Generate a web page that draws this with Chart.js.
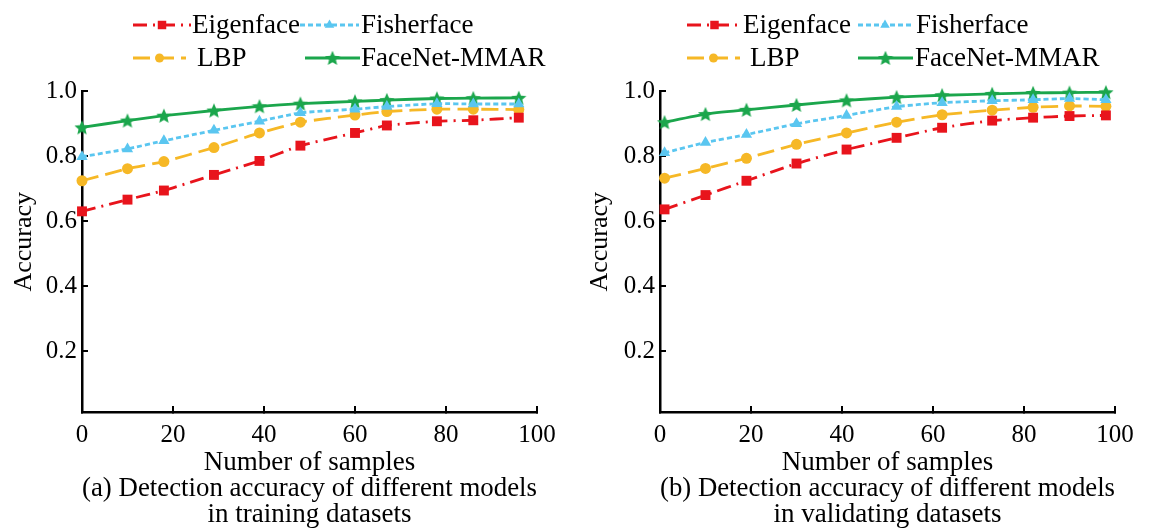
<!DOCTYPE html>
<html>
<head>
<meta charset="utf-8">
<script src="https://cdn.jsdelivr.net/npm/chart.js@4.4.1/dist/chart.umd.min.js"></script>
<style>
  html, body { margin: 0; padding: 0; background: #fff; }
  .wrap { display: flex; width: 1152px; height: 531px; }
  .panel { width: 576px; height: 531px; }
</style>
</head>
<body>
<div class="wrap">
  <div class="panel"><canvas id="chartA" width="576" height="531"></canvas></div>
  <div class="panel"><canvas id="chartB" width="576" height="531"></canvas></div>
</div>
<script>
// Series names and axis ticks
const seriesNames = ['Eigenface', 'Fisherface', 'LBP', 'FaceNet-MMAR'];
const xTicks = [0, 20, 40, 60, 80, 100];
const yTicks = [0.2, 0.4, 0.6, 0.8, 1.0];

// (a) training datasets
const trainSamples = [0, 10, 18, 29, 39, 48, 60, 67, 78, 86, 96];
const trainEigen   = [0.630, 0.666, 0.694, 0.742, 0.785, 0.832, 0.871, 0.894, 0.907, 0.910, 0.918];
const trainFisher  = [0.798, 0.822, 0.847, 0.879, 0.907, 0.933, 0.944, 0.952, 0.961, 0.960, 0.960];
const trainLBP     = [0.724, 0.761, 0.783, 0.826, 0.871, 0.904, 0.926, 0.937, 0.944, 0.944, 0.943];
const trainFaceNet = [0.888, 0.909, 0.924, 0.940, 0.953, 0.961, 0.968, 0.972, 0.977, 0.978, 0.979];

// (b) validating datasets
const validSamples = [1, 10, 19, 30, 41, 52, 62, 73, 82, 90, 98];
const validEigen   = [0.636, 0.680, 0.724, 0.777, 0.820, 0.856, 0.887, 0.909, 0.918, 0.923, 0.925];
const validFisher  = [0.810, 0.842, 0.866, 0.899, 0.925, 0.952, 0.964, 0.970, 0.973, 0.977, 0.973];
const validLBP     = [0.732, 0.762, 0.793, 0.836, 0.871, 0.904, 0.927, 0.941, 0.950, 0.954, 0.953];
const validFaceNet = [0.904, 0.929, 0.942, 0.957, 0.971, 0.981, 0.987, 0.991, 0.994, 0.995, 0.996];

const FONT = '"Liberation Serif", "Times New Roman", serif';

// filled five-point star used as marker
function makeStar(color, size) {
  const c = document.createElement('canvas');
  c.width = c.height = size;
  const g = c.getContext('2d');
  const R = size / 2, r = R * 0.45;
  g.fillStyle = color;
  g.beginPath();
  for (let i = 0; i < 10; i++) {
    const a = -Math.PI / 2 + i * Math.PI / 5;
    const rad = i % 2 ? r : R;
    g.lineTo(R + rad * Math.cos(a), R + R * 0.08 + rad * Math.sin(a));
  }
  g.closePath();
  g.fill();
  return c;
}

const styles = [
  { color: '#e8141c', dash: [14, 6, 2, 6], point: 'rect', radius: 7 },
  { color: '#5ac6f0', dash: [5, 3], point: 'triangle', radius: 6.5 },
  { color: '#f6b826', dash: [17, 7], point: 'circle', radius: 5.5 },
  { color: '#1ba64c', dash: [], point: makeStar('#1ba64c', 16), radius: 7 }
];

function toPoints(xs, ys) {
  return xs.map((x, i) => ({ x: x, y: ys[i] }));
}

function buildDatasets(xs, seriesList) {
  return seriesList.map((ys, i) => ({
    label: seriesNames[i],
    data: toPoints(xs, ys),
    borderColor: styles[i].color,
    backgroundColor: styles[i].color,
    borderWidth: 2.8,
    borderDash: styles[i].dash,
    pointStyle: styles[i].point,
    pointRadius: styles[i].radius,
    pointBorderWidth: 0,
    tension: 0.15,
    clip: 20
  }));
}

// legend drawn as line + marker + text, like the original figure
const lineLegend = {
  id: 'lineLegend',
  afterDraw(chart, args, opts) {
    const ctx = chart.ctx;
    opts.items.forEach((it, i) => {
      const ds = chart.data.datasets[i];
      ctx.save();
      ctx.strokeStyle = ds.borderColor;
      ctx.lineWidth = 2.8;
      ctx.setLineDash(ds.borderDash || []);
      ctx.beginPath();
      ctx.moveTo(it.x0, it.y);
      ctx.lineTo(it.x1, it.y);
      ctx.stroke();
      ctx.setLineDash([]);
      ctx.fillStyle = ds.backgroundColor;
      Chart.helpers.drawPoint(ctx, {
        pointStyle: ds.pointStyle,
        radius: ds.pointRadius - 1,
        borderWidth: 0,
        rotation: 0
      }, (it.x0 + it.x1) / 2, it.y);
      ctx.fillStyle = '#000';
      ctx.font = '27px ' + FONT;
      ctx.textBaseline = 'middle';
      ctx.textAlign = 'left';
      ctx.fillText(ds.label, it.tx, it.y + 1);
      ctx.restore();
    });
  }
};

function makeChart(id, xs, seriesList, caption, axisLeft, legendItems) {
  const plotRight = axisLeft + 455;
  return new Chart(document.getElementById(id), {
    type: 'line',
    data: { datasets: buildDatasets(xs, seriesList) },
    plugins: [lineLegend],
    options: {
      responsive: false,
      animation: false,
      devicePixelRatio: 1,
      layout: { padding: { top: 91, left: 0, right: 576 - plotRight, bottom: 0 } },
      plugins: {
        legend: { display: false },
        tooltip: { enabled: false },
        lineLegend: { items: legendItems }
      },
      scales: {
        x: {
          type: 'linear',
          min: 0,
          max: 100,
          afterBuildTicks: (s) => { s.ticks = xTicks.map(v => ({ value: v })); },
          afterFit: (s) => { s.height = 119; },
          border: { display: true, color: '#000', width: 2.5 },
          grid: { drawOnChartArea: false, drawTicks: true, tickLength: -6, color: '#000', lineWidth: 2 },
          ticks: { color: '#000', font: { family: FONT, size: 25 }, padding: 14, maxRotation: 0 },
          title: {
            display: true,
            text: ['Number of samples'].concat(caption),
            color: '#000',
            font: { family: FONT, size: 27, lineHeight: '26px' },
            padding: { top: 0, bottom: 3 }
          }
        },
        y: {
          min: 0.013,
          max: 1.0,
          afterBuildTicks: (s) => { s.ticks = yTicks.map(v => ({ value: v })); },
          afterFit: (s) => { s.width = axisLeft; },
          border: { display: true, color: '#000', width: 2.5 },
          grid: { drawOnChartArea: false, drawTicks: true, tickLength: -6, color: '#000', lineWidth: 2 },
          ticks: {
            color: '#000',
            font: { family: FONT, size: 25 },
            padding: 11,
            callback: (v) => Number(v).toFixed(1)
          },
          title: {
            display: true,
            // leading spaces lift the word a little above the plot centre, as in the figure
            text: '\u00a0\u00a0\u00a0Accuracy',
            color: '#000',
            font: { family: FONT, size: 26 },
            padding: { top: 9, bottom: 0 }
          }
        }
      }
    }
  });
}

makeChart('chartA', trainSamples,
  [trainEigen, trainFisher, trainLBP, trainFaceNet],
  ['(a) Detection accuracy of different models', 'in training datasets'],
  82,
  [
    { x0: 133, x1: 191, y: 25, tx: 192 },
    { x0: 300, x1: 359, y: 25, tx: 361 },
    { x0: 133, x1: 186, y: 58, tx: 197 },
    { x0: 305, x1: 360, y: 58, tx: 361 }
  ]);

makeChart('chartB', validSamples,
  [validEigen, validFisher, validLBP, validFaceNet],
  ['(b) Detection accuracy of different models', 'in validating datasets'],
  84,
  [
    { x0: 111, x1: 166, y: 25, tx: 167 },
    { x0: 282, x1: 336, y: 25, tx: 340 },
    { x0: 111, x1: 164, y: 58, tx: 174 },
    { x0: 282, x1: 337, y: 58, tx: 339 }
  ]);
</script>
</body>
</html>
